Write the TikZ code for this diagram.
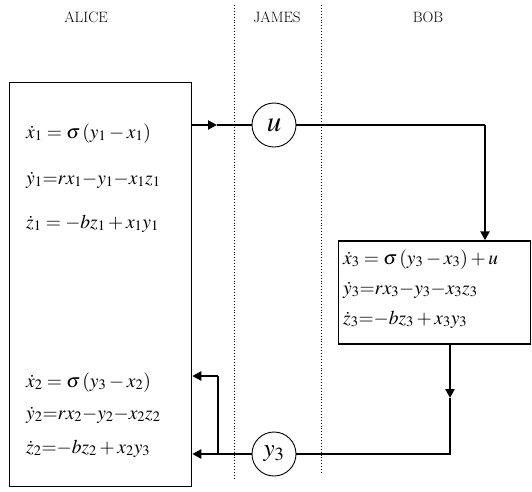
\documentclass[tikz,border=0pt]{standalone}
\usepackage{mathptmx}
\usetikzlibrary{arrows.meta}
\begin{document}
\begin{tikzpicture}[x=1pt,y=-1pt]
\tikzset{
  lbl/.style={inner sep=0pt, font=\fontsize{15}{17}\selectfont},
  eq/.style={anchor=base west, inner sep=0pt, font=\fontsize{19.5}{22}\selectfont},
  beq/.style={anchor=base west, inner sep=0pt, font=\fontsize{19.5}{22}\selectfont},
  sysbox/.style={draw, line width=1.3pt, inner sep=0pt},
  sig/.style={draw, circle, line width=0.9pt, minimum size=44pt, inner sep=0pt, fill=white},
  conn/.style={line width=2.2pt},
  tip/.style={-{Triangle[length=9pt,width=9pt]}},
  sep/.style={dotted, line width=0.9pt}
}
\useasboundingbox (0,0) rectangle (532,491);
% section labels
\node[lbl] (alabel) at (86,17) {ALICE};
\node[lbl] (jlabel) at (277,17) {JAMES};
\node[lbl] (blabel) at (428,17) {BOB};
% separators
\draw[sep] (234,5) -- (234,480);
\draw[sep] (321,5) -- (321,474);
% boxes
\node[sysbox, minimum width=182pt, minimum height=404pt] (alice) at (100.6,284.8) {};
\node[sysbox, minimum width=192pt, minimum height=103pt] (bob) at (434.5,292.5) {};
% signal circles
\node[sig, font=\fontsize{29}{32}\selectfont] (u) at (274,125) {$u$};
\node[sig, font=\fontsize{25}{28}\selectfont] (y3) at (274,454) {$y_3$};
% Alice equations
\node[eq] (a1) at (26,138) {$\dot{x}_1 = \sigma\,(y_1 - x_1)$};
\node[eq] (a2) at (26,184) {$\dot{y}_1{=}rx_1{-}y_1{-}x_1z_1$};
\node[eq] (a3) at (26,228) {$\dot{z}_1 = {-}bz_1 + x_1y_1$};
\node[eq] (a4) at (26,387) {$\dot{x}_2 = \sigma\,(y_3 - x_2)$};
\node[eq] (a5) at (26,419) {$\dot{y}_2{=}rx_2{-}y_2{-}x_2z_2$};
\node[eq] (a6) at (26,453) {$\dot{z}_2{=}{-}bz_2 + x_2y_3$};
% Bob equations
\node[beq] (b1) at (343,264) {$\dot{x}_3 = \sigma\,(y_3 - x_3) + u$};
\node[beq] (b2) at (343,294) {$\dot{y}_3{=}rx_3{-}y_3{-}x_3z_3$};
\node[beq] (b3) at (343,324) {$\dot{z}_3{=}{-}bz_3 + x_3y_3$};
% connector points
\coordinate (m1) at (217,125);
\coordinate (c1) at (485,125);
\coordinate (m2) at (450,398);
\coordinate (c2) at (450,454);
\coordinate (j) at (218,454);
\coordinate (j2) at (218,376);
% Alice -> u
\draw[conn,tip] (alice.east |- u.west) -- (m1);
\draw[conn] (m1) -- (u.west);
% u -> Bob
\draw[conn] (u.east) -- (c1);
\draw[conn,tip] (c1) -- (c1 |- bob.north);
% Bob -> y3
\draw[conn,tip] (bob.south -| m2) -- (m2);
\draw[conn] (m2) -- (c2) -- (y3.east);
% y3 -> Alice
\draw[conn] (y3.west) -- (j);
\draw[conn,tip] (j) -- (alice.east |- j);
\draw[conn] (j) -- (j2);
\draw[conn,tip] (j2) -- (alice.east |- j2);
\end{tikzpicture}
\end{document}
